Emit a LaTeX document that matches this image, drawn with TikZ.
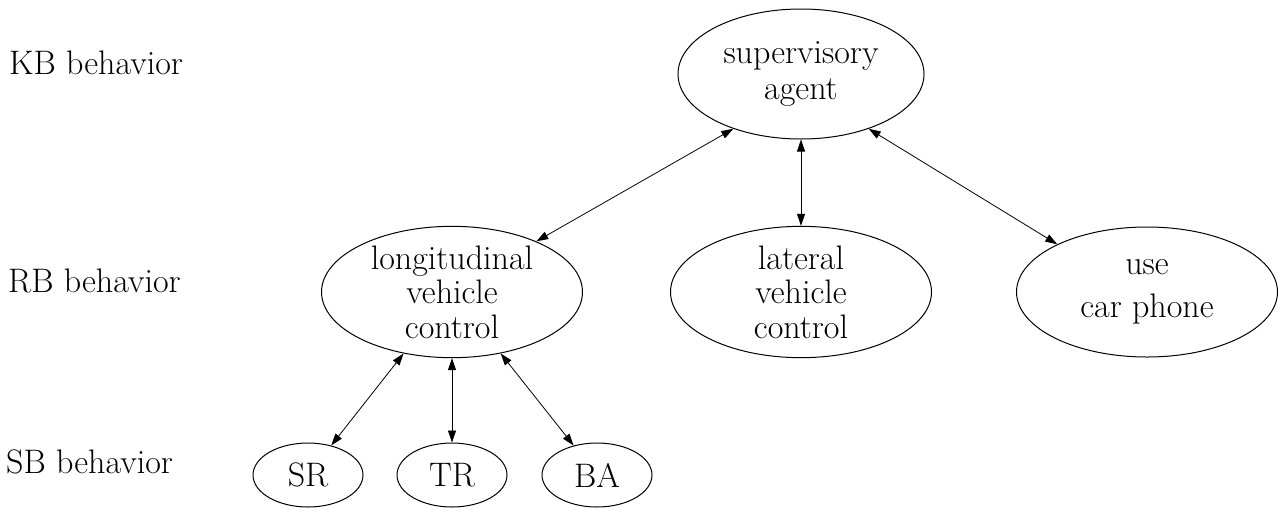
\documentclass[tikz,border=0pt]{standalone}
\usetikzlibrary{shapes.geometric,arrows.meta}
\begin{document}
\begin{tikzpicture}[x=1pt,y=-1pt,
  every node/.style={font=\fontsize{34}{34.5}\selectfont, inner sep=0pt},
  bignode/.style={draw, line width=1pt, ellipse, minimum width=261pt, minimum height=130pt, align=center},
  supnode/.style={bignode, minimum width=246pt},
  smallnode/.style={draw, line width=1pt, ellipse, minimum width=110pt, minimum height=64pt},
  levellabel/.style={anchor=base west},
  conn/.style={line width=0.8pt, {Triangle[length=12pt,width=8pt]}-{Triangle[length=12pt,width=8pt]}}
]
\useasboundingbox (0,0) rectangle (1279,509);

% level labels
\node[levellabel] (kb) at (9,74) {KB behavior};
\node[levellabel] (rb) at (8,292) {RB behavior};
\node[levellabel] (sb) at (6,473) {SB behavior};

% nodes
\node[supnode] (sup) at (801,74) {supervisory\\[1.5pt]agent};
\node[bignode] (long) at (452,292) {longitudinal\\vehicle\\control};
\node[bignode] (lat) at (801,292) {lateral\\vehicle\\control};
\node[bignode] (phone) at (1147,292) {use\\[9pt]car phone};
\node[smallnode] (sr) at (308,475) {SR};
\node[smallnode] (tr) at (452,475) {TR};
\node[smallnode] (ba) at (597,475) {BA};

% connectors
\draw[conn] (sup.219) -- (long.31);
\draw[conn] (sup) -- (lat);
\draw[conn] (sup.321) -- (phone.152);
\draw[conn] (long) -- (sr);
\draw[conn] (long) -- (tr);
\draw[conn] (long) -- (ba);
\end{tikzpicture}
\end{document}
